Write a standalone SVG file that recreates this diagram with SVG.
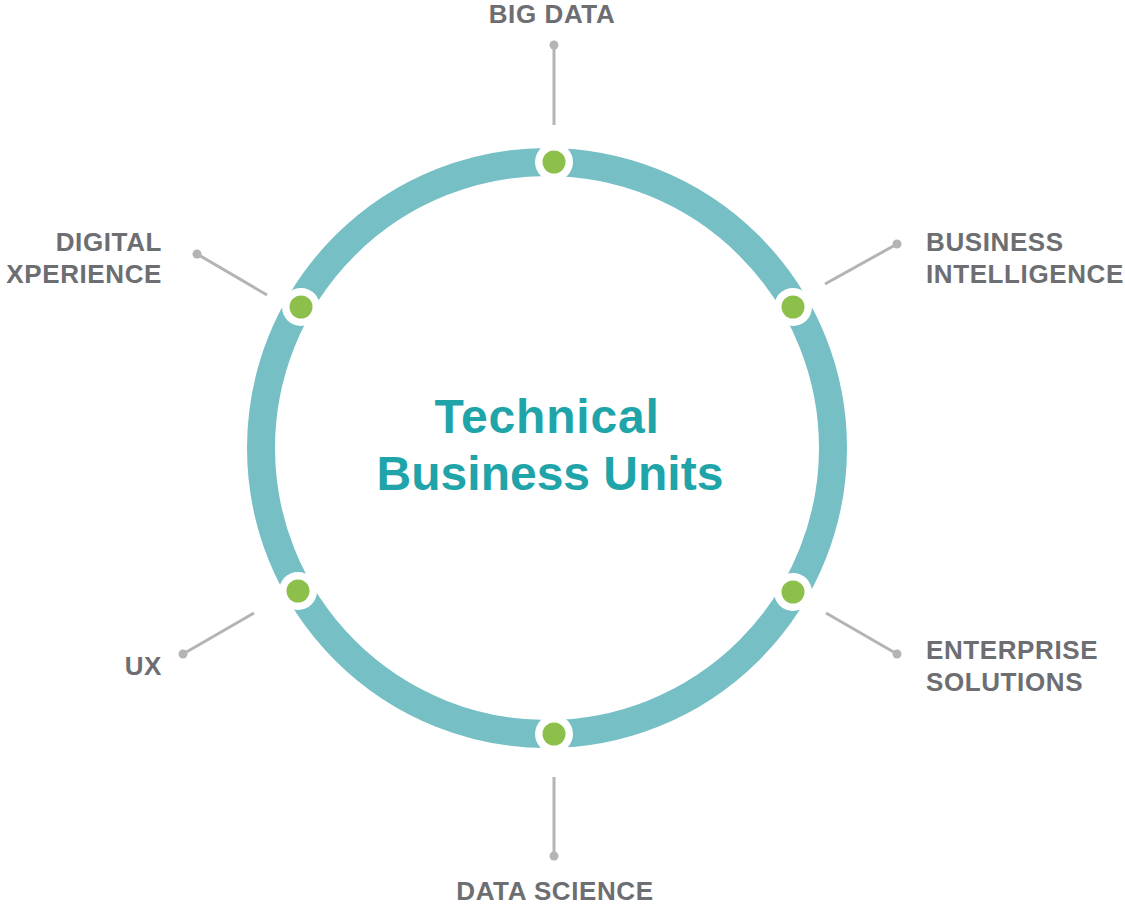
<svg xmlns="http://www.w3.org/2000/svg" width="1125" height="905" viewBox="0 0 1125 905">
<style>
.lbl{font-family:"Liberation Sans",Arial,sans-serif;font-weight:bold;font-size:26px;letter-spacing:0.6px;fill:#6D6E72}
.title{font-family:"Liberation Sans",Arial,sans-serif;font-weight:bold;font-size:48px;fill:#1FA4AA;text-anchor:middle}
.conn line{stroke:#B4B4B7;stroke-width:3}
.conn circle{fill:#B4B4B7}
.halo{fill:#FFFFFF}
.dot{fill:#8CC04A}
</style>
<rect width="1125" height="905" fill="#FFFFFF"/>
<g id="ring">
<circle cx="547" cy="448" r="286" fill="none" stroke="#75BFC5" stroke-width="28"/>
</g>
<g id="title">
<text class="title" x="547" y="433" style="letter-spacing:0.8px">Technical</text>
<text class="title" x="550" y="490">Business Units</text>
</g>
<g id="connectors" class="conn">
<line x1="554" y1="45" x2="554" y2="125"/><circle cx="554" cy="45" r="4.5"/>
<line x1="825" y1="284" x2="897" y2="244"/><circle cx="897" cy="244" r="4.5"/>
<line x1="267" y1="295" x2="197" y2="254"/><circle cx="197" cy="254" r="4.5"/>
<line x1="826" y1="613" x2="897" y2="654"/><circle cx="897" cy="654" r="4.5"/>
<line x1="254" y1="613" x2="183" y2="654"/><circle cx="183" cy="654" r="4.5"/>
<line x1="554" y1="777" x2="554" y2="856"/><circle cx="554" cy="856" r="4.5"/>
</g>
<g id="big-data">
<circle class="halo" cx="554" cy="162" r="19"/><circle class="dot" cx="554" cy="162" r="11.5"/>
<text class="lbl" x="552" y="23" text-anchor="middle">BIG DATA</text>
</g>
<g id="business-intelligence">
<circle class="halo" cx="793" cy="307" r="19"/><circle class="dot" cx="793" cy="307" r="11.5"/>
<text class="lbl" x="926" y="251">BUSINESS</text>
<text class="lbl" x="926" y="283">INTELLIGENCE</text>
</g>
<g id="digital-xperience">
<circle class="halo" cx="301" cy="307" r="19"/><circle class="dot" cx="301" cy="307" r="11.5"/>
<text class="lbl" x="162" y="251" text-anchor="end">DIGITAL</text>
<text class="lbl" x="162" y="283" text-anchor="end">XPERIENCE</text>
</g>
<g id="enterprise-solutions">
<circle class="halo" cx="793" cy="592" r="19"/><circle class="dot" cx="793" cy="592" r="11.5"/>
<text class="lbl" x="926" y="659">ENTERPRISE</text>
<text class="lbl" x="926" y="691">SOLUTIONS</text>
</g>
<g id="ux">
<circle class="halo" cx="298" cy="591" r="19"/><circle class="dot" cx="298" cy="591" r="11.5"/>
<text class="lbl" x="162" y="675" text-anchor="end">UX</text>
</g>
<g id="data-science">
<circle class="halo" cx="554" cy="734" r="19"/><circle class="dot" cx="554" cy="734" r="11.5"/>
<text class="lbl" x="555" y="900" text-anchor="middle">DATA SCIENCE</text>
</g>
</svg>
